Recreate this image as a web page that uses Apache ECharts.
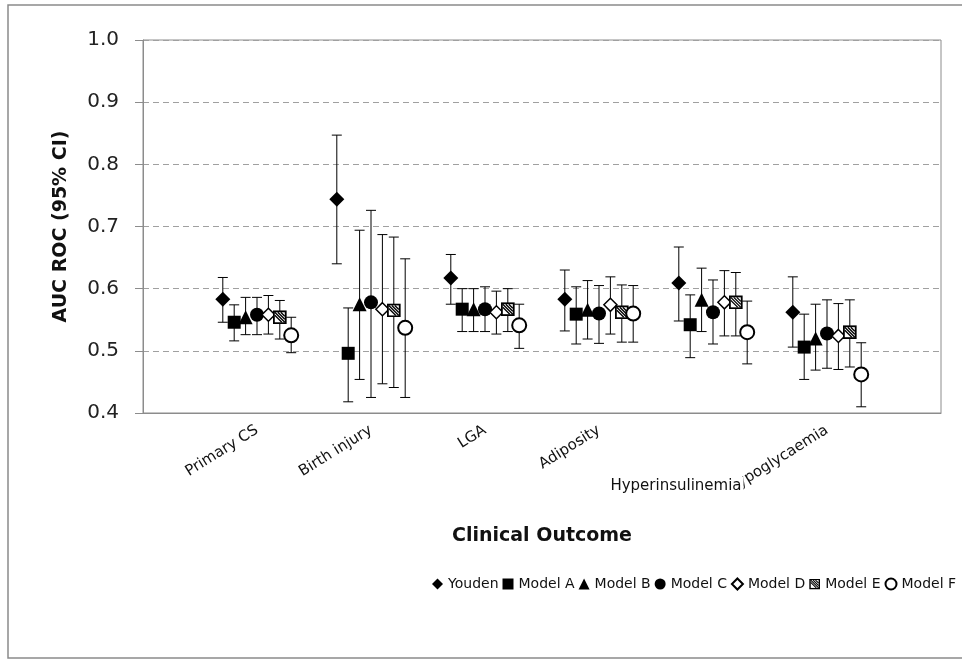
<!DOCTYPE html>
<html>
<head>
<meta charset="utf-8">
<script src="https://cdn.jsdelivr.net/npm/echarts@6/dist/echarts.min.js"></script>
<style>
  html, body { margin: 0; padding: 0; background: #fff; }
  #chart { width: 962px; height: 661px; }
</style>
</head>
<body>
<div id="chart"></div>
<script>
// categories + series values (AUC with 95% CI bounds)
const categories = ['Primary CS', 'Birth injury', 'LGA', 'Adiposity', 'Hyperinsulinemia', 'Hypoglycaemia'];
const flatLabel = 'Hyperinsulinemia';
const yTicks = [0.4, 0.5, 0.6, 0.7, 0.8, 0.9, 1.0];

const youdenAuc = [0.583, 0.744, 0.617, 0.583, 0.609, 0.562];
const youdenLo  = [0.546, 0.640, 0.575, 0.532, 0.548, 0.506];
const youdenHi  = [0.618, 0.847, 0.655, 0.630, 0.667, 0.619];

const modelAAuc = [0.546, 0.496, 0.567, 0.559, 0.542, 0.506];
const modelALo  = [0.516, 0.418, 0.531, 0.511, 0.489, 0.454];
const modelAHi  = [0.574, 0.569, 0.600, 0.603, 0.590, 0.559];

const modelBAuc = [0.554, 0.575, 0.567, 0.566, 0.582, 0.520];
const modelBLo  = [0.526, 0.454, 0.531, 0.519, 0.531, 0.469];
const modelBHi  = [0.586, 0.694, 0.600, 0.613, 0.633, 0.575];

const modelCAuc = [0.558, 0.578, 0.567, 0.560, 0.562, 0.528];
const modelCLo  = [0.526, 0.425, 0.531, 0.512, 0.511, 0.472];
const modelCHi  = [0.586, 0.726, 0.603, 0.605, 0.614, 0.582];

const modelDAuc = [0.558, 0.567, 0.562, 0.574, 0.578, 0.524];
const modelDLo  = [0.527, 0.447, 0.527, 0.527, 0.524, 0.470];
const modelDHi  = [0.589, 0.687, 0.596, 0.619, 0.629, 0.576];

const modelEAuc = [0.554, 0.565, 0.567, 0.562, 0.578, 0.530];
const modelELo  = [0.519, 0.441, 0.531, 0.514, 0.524, 0.474];
const modelEHi  = [0.581, 0.683, 0.600, 0.606, 0.626, 0.582];

const modelFAuc = [0.525, 0.537, 0.541, 0.560, 0.530, 0.462];
const modelFLo  = [0.497, 0.425, 0.504, 0.514, 0.479, 0.410];
const modelFHi  = [0.554, 0.648, 0.575, 0.605, 0.580, 0.513];

const FONT = '"DejaVu Sans", sans-serif';

const hatchSvg = "<svg xmlns='http://www.w3.org/2000/svg' width='14' height='14'>" +
  "<rect x='1' y='1' width='12' height='12' fill='white' stroke='black' stroke-width='2'/>" +
  "<path d='M2 5 L9 12 M2 2 L12 12 M5 2 L12 9 M8 2 L12 6' stroke='black' stroke-width='1.3'/></svg>";
const hatchSymbol = 'image://data:image/svg+xml;charset=utf-8,' + encodeURIComponent(hatchSvg);

const models = [
  { name: 'Youden',  auc: youdenAuc, lo: youdenLo, hi: youdenHi, symbol: 'diamond',  size: 15, fill: '#000', border: 0 },
  { name: 'Model A', auc: modelAAuc, lo: modelALo, hi: modelAHi, symbol: 'rect',     size: 13, fill: '#000', border: 0 },
  { name: 'Model B', auc: modelBAuc, lo: modelBLo, hi: modelBHi, symbol: 'triangle', size: 14, fill: '#000', border: 0 },
  { name: 'Model C', auc: modelCAuc, lo: modelCLo, hi: modelCHi, symbol: 'circle',   size: 14, fill: '#000', border: 0 },
  { name: 'Model D', auc: modelDAuc, lo: modelDLo, hi: modelDHi, symbol: 'diamond',  size: 13, fill: '#fff', border: 1.5 },
  { name: 'Model E', auc: modelEAuc, lo: modelELo, hi: modelEHi, symbol: hatchSymbol, size: 14, fill: '#fff', border: 0 },
  { name: 'Model F', auc: modelFAuc, lo: modelFLo, hi: modelFHi, symbol: 'circle',   size: 14, fill: '#fff', border: 2 },
];

const STEP = 0.1;

function errorBars(api) {
  const x = api.value(0);
  const top = api.coord([x, api.value(2)]);
  const bot = api.coord([x, api.value(1)]);
  const w = 5;
  const style = { stroke: '#000', lineWidth: 1 };
  return {
    type: 'group',
    children: [
      { type: 'line', shape: { x1: top[0], y1: top[1], x2: bot[0], y2: bot[1] }, style },
      { type: 'line', shape: { x1: top[0] - w, y1: top[1], x2: top[0] + w, y2: top[1] }, style },
      { type: 'line', shape: { x1: bot[0] - w, y1: bot[1], x2: bot[0] + w, y2: bot[1] }, style },
    ],
  };
}

const series = [];
models.forEach((m, k) => {
  const off = (k - 3) * STEP;
  series.push({
    name: m.name + ' CI',
    type: 'custom',
    renderItem: (params, api) => errorBars(api),
    data: categories.map((c, i) => [i + 1 + off, m.lo[i], m.hi[i]]),
    z: 1,
    silent: true,
  });
  series.push({
    name: m.name,
    type: 'scatter',
    symbol: m.symbol,
    symbolSize: m.size,
    data: categories.map((c, i) => [i + 1 + off, m.auc[i]]),
    itemStyle: { color: m.fill, borderColor: '#000', borderWidth: m.border, opacity: 1 },
    z: 3 + k,
  });
});

const chart = echarts.init(document.getElementById('chart'));

chart.setOption({
  animation: false,
  textStyle: { fontFamily: FONT },
  graphic: [{
    type: 'rect',
    silent: true,
    shape: { x: 8, y: 5, width: 980, height: 653 },
    style: { fill: 'none', stroke: '#8a8a8a', lineWidth: 1.5 },
  }],
  grid: { left: 143, right: 21, top: 40, bottom: 248, show: true, borderColor: '#8c8c8c', borderWidth: 1 },
  legend: {
    data: models.map(m => m.name),
    left: 432,
    top: 577,
    padding: 0,
    itemWidth: 11,
    itemHeight: 11,
    itemGap: 4,
    textStyle: { fontSize: 14, color: '#111', fontFamily: FONT },
  },
  xAxis: [
    {
      type: 'value',
      min: 0,
      max: 7,
      interval: 1,
      name: 'Clinical Outcome',
      nameLocation: 'middle',
      nameGap: 114,
      nameTextStyle: { fontSize: 19, fontWeight: 'bold', color: '#111', fontFamily: FONT },
      axisLine: { show: true, lineStyle: { color: '#8c8c8c' } },
      axisTick: { show: false },
      splitLine: { show: false },
      axisLabel: {
        rotate: 32,
        margin: 16,
        fontSize: 15,
        color: '#111',
        fontFamily: FONT,
        formatter: v => {
          const c = categories[v - 1];
          return c && c !== flatLabel ? c : '';
        },
      },
    },
    {
      type: 'value',
      min: 0,
      max: 7,
      interval: 1,
      position: 'bottom',
      axisLine: { show: false },
      axisTick: { show: false },
      splitLine: { show: false },
      axisLabel: {
        rotate: 0,
        margin: 64,
        color: '#111',
        formatter: v => (categories[v - 1] === flatLabel ? '{t|' + flatLabel + '}{s|}' : ''),
        rich: {
          t: { fontSize: 15, color: '#111', fontFamily: FONT, backgroundColor: '#fff', padding: [2, 2] },
          s: { width: 74 },
        },
      },
    },
  ],
  yAxis: {
    type: 'value',
    min: 0.4,
    max: 1.0,
    interval: 0.1,
    name: 'AUC ROC (95% CI)',
    nameLocation: 'middle',
    nameGap: 72,
    nameTextStyle: { fontSize: 19, fontWeight: 'bold', color: '#111', fontFamily: FONT },
    axisLine: { show: true, lineStyle: { color: '#8c8c8c' } },
    axisTick: { show: true, inside: false, length: 8, lineStyle: { color: '#8c8c8c' } },
    axisLabel: {
      margin: 24,
      fontSize: 20,
      color: '#222',
      fontFamily: FONT,
      formatter: v => yTicks.find(t => Math.abs(t - v) < 1e-6).toFixed(1),
    },
    splitLine: { show: true, lineStyle: { color: '#a0a0a0', type: [6, 4], width: 1 } },
  },
  series,
});

window.addEventListener('resize', () => chart.resize());
</script>
</body>
</html>
